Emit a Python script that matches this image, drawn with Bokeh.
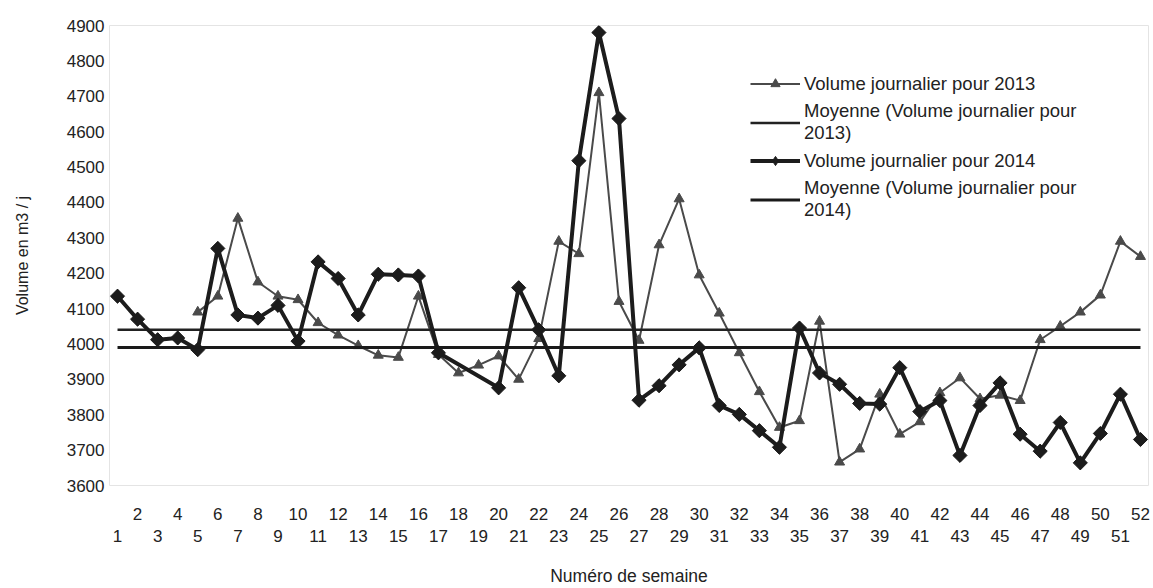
from bokeh.plotting import figure
from bokeh.models import Range1d, LinearAxis, FixedTicker, ColumnDataSource, Legend, LegendItem
from bokeh.embed import file_html
from bokeh.resources import INLINE

weeks = list(range(1, 53))
vol_2013 = [None, None, None, None, 4090, 4135, 4355, 4175, 4135, 4125, 4060, 4025, 3995, 3968,
            3962, 4135, 3970, 3918, 3940, 3966, 3900, 4015, 4290, 4255, 4710, 4120, 4010, 4280,
            4410, 4195, 4087, 3975, 3865, 3764, 3783, 4064, 3666, 3703, 3858, 3745, 3780, 3862,
            3904, 3845, 3855, 3840, 4012, 4050, 4090, 4138, 4290, 4247]
vol_2014 = [4135, 4070, 4012, 4017, 3984, 4270, 4082, 4073, 4109, 4008, 4232, 4185, 4082, 4197,
            4195, 4192, 3975, None, None, 3876, 4159, 4040, 3910, 4518, 4880, 4637, 3841, 3882,
            3941, 3989, 3826, 3801, 3755, 3708, 4045, 3918, 3886, 3832, 3830, 3933, 3809, 3840,
            3685, 3826, 3890, 3745, 3697, 3778, 3664, 3747, 3858, 3730]
mean_2013 = 4040
mean_2014 = 3990
y_ticks = list(range(3600, 4901, 100))
even_weeks = [w for w in weeks if w % 2 == 0]
odd_weeks = [w for w in weeks if w % 2 == 1]

labels = ["Volume journalier pour 2013",
          "Moyenne (Volume journalier pour\n2013)",
          "Volume journalier pour 2014",
          "Moyenne (Volume journalier pour\n2014)"]

FONT = "Liberation Sans"
TXT = "#222222"
C13 = "#4a4a4a"
C14 = "#1c1c1c"


def present(xs, ys):
    pairs = [(x, y) for x, y in zip(xs, ys) if y is not None]
    return dict(x=[a for a, _ in pairs], y=[b for _, b in pairs])


src13 = ColumnDataSource(present(weeks, vol_2013))
src14 = ColumnDataSource(present(weeks, vol_2014))

p = figure(width=1153, height=588, output_backend="svg", toolbar_location=None,
           x_range=Range1d(0.6, 52.4), y_range=Range1d(3600, 4900),
           x_axis_location=None,
           min_border_left=109, min_border_right=5, min_border_top=25, min_border_bottom=100)
p.grid.visible = False
p.outline_line_color = "#e4e4e4"
p.background_fill_color = "white"
p.border_fill_color = "white"

# y axis
ya = p.yaxis[0]
ya.ticker = FixedTicker(ticks=y_ticks)
ya.axis_line_color = None
ya.major_tick_line_color = None
ya.minor_tick_line_color = None
ya.major_tick_out = 0
ya.major_label_standoff = 5
ya.major_label_text_font = FONT
ya.major_label_text_font_size = "17px"
ya.major_label_text_color = TXT
ya.axis_label = "Volume en m3 / j"
ya.axis_label_text_font = FONT
ya.axis_label_text_font_size = "16px"
ya.axis_label_text_font_style = "normal"
ya.axis_label_text_color = TXT
ya.axis_label_standoff = 33

# x axes: even labels on the upper row, odd labels on the lower row
xa_even = LinearAxis(ticker=FixedTicker(ticks=even_weeks))
xa_odd = LinearAxis(ticker=FixedTicker(ticks=odd_weeks))
for ax in (xa_even, xa_odd):
    ax.axis_line_color = None
    ax.major_tick_line_color = None
    ax.minor_tick_line_color = None
    ax.major_tick_out = 0
    ax.major_tick_in = 0
    ax.major_label_text_font = FONT
    ax.major_label_text_font_size = "17px"
    ax.major_label_text_color = TXT
xa_even.major_label_standoff = 22
xa_odd.major_label_standoff = 7
xa_odd.axis_label = "Numéro de semaine"
xa_odd.axis_label_text_font = FONT
xa_odd.axis_label_text_font_size = "17.5px"
xa_odd.axis_label_text_font_style = "normal"
xa_odd.axis_label_text_color = TXT
xa_odd.axis_label_standoff = 21
p.add_layout(xa_even, "below")
p.add_layout(xa_odd, "below")

# series
l13 = p.line("x", "y", source=src13, line_color=C13, line_width=2)
m13 = p.scatter("x", "y", source=src13, marker="triangle", size=10, fill_color=C13, line_color=C13)
avg13 = p.line([weeks[0], weeks[-1]], [mean_2013, mean_2013], line_color="#222222", line_width=2.5)
l14 = p.line("x", "y", source=src14, line_color=C14, line_width=4)
# diamond key for the legend (same points, drawn underneath the rotated squares)
key14 = p.scatter("x", "y", source=src14, marker="diamond", size=13, fill_color=C14, line_color=C14)
m14 = p.scatter("x", "y", source=src14, marker="square", angle=0.785398, size=10,
                fill_color=C14, line_color=C14)
avg14 = p.line([weeks[0], weeks[-1]], [mean_2014, mean_2014], line_color="#1a1a1a", line_width=3)

legend = Legend(items=[
    LegendItem(label=labels[0], renderers=[l13, m13]),
    LegendItem(label=labels[1], renderers=[avg13]),
    LegendItem(label=labels[2], renderers=[l14, key14]),
    LegendItem(label=labels[3], renderers=[avg14]),
], location=(641, 264))
legend.border_line_color = None
legend.background_fill_alpha = 0
legend.label_text_font = FONT
legend.label_text_font_size = "18.5px"
legend.label_text_line_height = 1.25
legend.label_text_color = TXT
legend.glyph_width = 50
legend.glyph_height = 23
legend.label_height = 23
legend.label_standoff = 4
legend.spacing = 5
legend.padding = 0
legend.margin = 0
p.add_layout(legend)

open("out.html", "w").write(file_html(p, INLINE))
